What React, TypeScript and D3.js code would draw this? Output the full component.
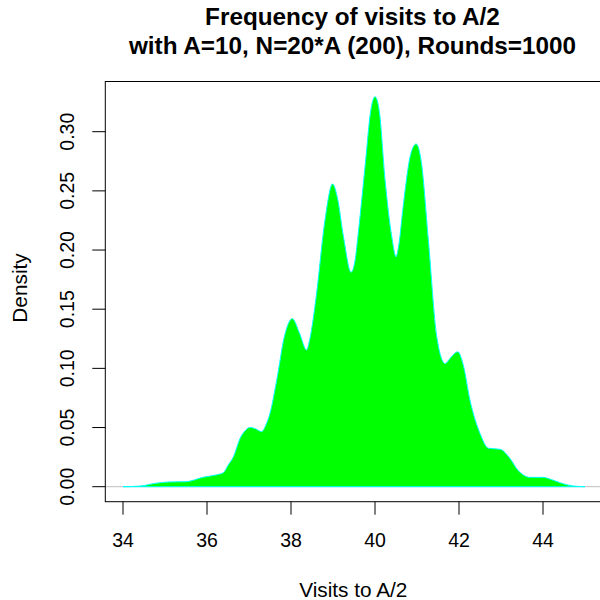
import React from "react";
import * as d3 from "d3";

const visits = [34.0, 34.4, 34.8, 35.12, 35.5, 35.9, 36.23, 36.39, 36.5, 36.63, 36.79, 36.9, 37.02, 37.15, 37.3, 37.4, 37.5, 37.66, 37.85, 38.03, 38.2, 38.37, 38.45, 38.6, 38.81, 38.99, 39.1, 39.25, 39.43, 39.52, 39.61, 39.77, 39.9, 40.0, 40.1, 40.24, 40.4, 40.5, 40.57, 40.67, 40.85, 40.98, 41.1, 41.27, 41.47, 41.67, 41.8, 41.97, 42.1, 42.26, 42.5, 42.7, 42.98, 43.21, 43.4, 43.53, 43.69, 44.0, 44.2, 44.4, 44.72, 45.0];
const density = [0, 0.0005, 0.003, 0.004, 0.0042, 0.0079, 0.01, 0.0118, 0.018, 0.0253, 0.041, 0.047, 0.05, 0.049, 0.0465, 0.052, 0.062, 0.09, 0.128, 0.142, 0.13, 0.1155, 0.125, 0.1606, 0.2254, 0.2558, 0.245, 0.211, 0.1812, 0.19, 0.217, 0.273, 0.318, 0.3296, 0.318, 0.259, 0.211, 0.1944, 0.205, 0.2366, 0.281, 0.2896, 0.275, 0.2085, 0.1268, 0.104, 0.109, 0.114, 0.103, 0.0733, 0.045, 0.0325, 0.0316, 0.024, 0.014, 0.0099, 0.0079, 0.0079, 0.006, 0.0034, 0.0006, 0];
const xTicks = [34, 36, 38, 40, 42, 44];
const yTicks = [0, 0.05, 0.1, 0.15, 0.2, 0.25, 0.3];
const titleLines = ["Frequency of visits to A/2", "with A=10, N=20*A (200), Rounds=1000"];

export default function App() {
  const left = 105.3, right = 601, top = 81.5, bottom = 501.7;
  const x = d3.scaleLinear().domain([34, 44]).range([123, 543]);
  const y = d3.scaleLinear().domain([0, 0.3]).range([486.7, 131.7]);
  const pts: [number, number][] = visits.map((v, i) => [v, density[i]]);
  const area = d3.area<[number, number]>()
    .x(d => x(d[0])).y0(y(0)).y1(d => y(d[1]))
    .curve(d3.curveMonotoneX);
  const line = d3.line<[number, number]>()
    .x(d => x(d[0])).y(d => y(d[1]))
    .curve(d3.curveMonotoneX);
  const font = "'Liberation Sans', Arial, sans-serif";
  const cx = 352.5;
  return (
    <svg width={600} height={600} style={{ position: "absolute", left: 0, top: 0, background: "white" }} fontFamily={font}>
      <rect x={0} y={0} width={600} height={600} fill="white" />
      {titleLines.map((t, i) => (
        <text key={i} x={cx} y={24.5 + i * 29.5} textAnchor="middle" fontWeight="bold" fontSize={24.3} fill="#000">{t}</text>
      ))}
      <line x1={left} x2={right} y1={y(0)} y2={y(0)} stroke="#bebebe" strokeWidth={1} />
      <path d={area(pts) || ""} fill="#00ff00" stroke="none" />
      <path d={line(pts) || ""} fill="none" stroke="#00ffff" strokeWidth={1} />
      <line x1={x(34)} x2={x(45)} y1={y(0)} y2={y(0)} stroke="#00ffff" strokeWidth={1} />
      <rect x={left} y={top} width={right - left} height={bottom - top} fill="none" stroke="#000" strokeWidth={1} />
      {xTicks.map(t => (
        <g key={t}>
          <line x1={x(t)} x2={x(t)} y1={bottom} y2={bottom + 13} stroke="#000" />
          <text x={x(t)} y={547} textAnchor="middle" fontSize={19.5} fill="#000">{t}</text>
        </g>
      ))}
      {yTicks.map(t => (
        <g key={t}>
          <line x1={left - 13} x2={left} y1={y(t)} y2={y(t)} stroke="#000" />
          <text transform={`translate(74,${y(t)}) rotate(-90)`} textAnchor="middle" fontSize={19.5} fill="#000">{t.toFixed(2)}</text>
        </g>
      ))}
      <text x={353.3} y={597} textAnchor="middle" fontSize={20.8} fill="#000">Visits to A/2</text>
      <text transform={`translate(26.5,288) rotate(-90)`} textAnchor="middle" fontSize={20.8} fill="#000">Density</text>
    </svg>
  );
}
